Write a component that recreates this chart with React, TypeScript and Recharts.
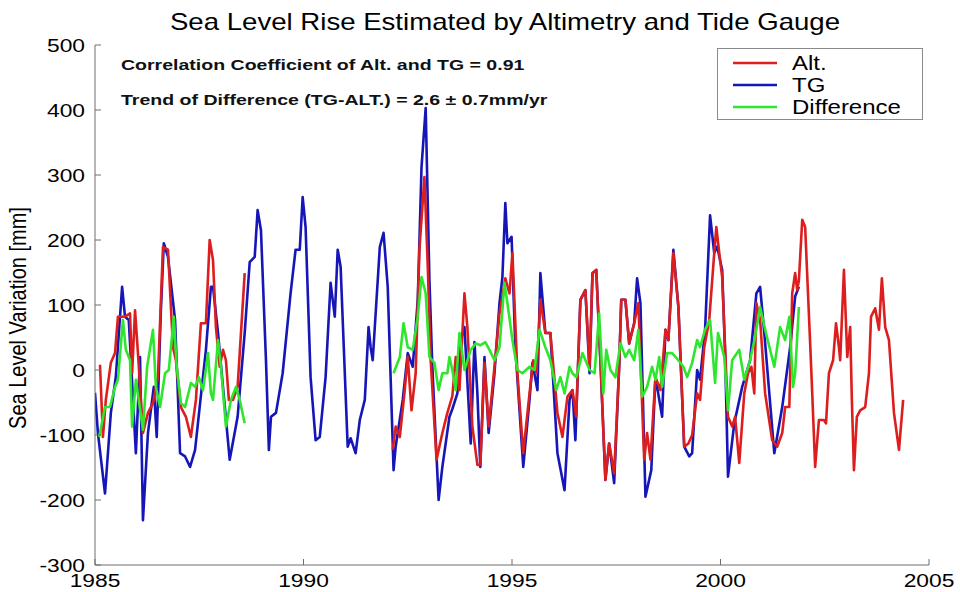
import React from 'react';
import { LineChart, Line, XAxis, YAxis, Legend } from 'recharts';

const xTicks = [1985, 1990, 1995, 2000, 2005];
const yTicks = [-300, -200, -100, 0, 100, 200, 300, 400, 500];

const titleText = 'Sea Level Rise Estimated by Altimetry and Tide Gauge';
const yLabelText = 'Sea Level Variation [mm]';
const noteLines = [
  'Correlation Coefficient of Alt. and TG = 0.91',
  'Trend of Difference (TG-ALT.) = 2.6 \u00b1 0.7mm/yr',
];
const legendOrder = ['Alt.', 'TG', 'Difference'];

// Tide gauge (TG)
const tgYears = [
  1985.0, 1985.07, 1985.24, 1985.38, 1985.5, 1985.65, 1985.72, 1985.81, 1985.98, 1986.08,
  1986.15, 1986.27, 1986.41, 1986.48, 1986.58, 1986.65, 1986.75, 1986.92, 1987.04, 1987.16,
  1987.28, 1987.4, 1987.51, 1987.66, 1987.78, 1987.83, 1987.95, 1988.23, 1988.42, 1988.59,
  1988.71, 1988.83, 1988.9, 1988.98, 1989.1, 1989.17, 1989.22, 1989.34, 1989.5, 1989.69,
  1989.81, 1989.91, 1989.98, 1990.05, 1990.17, 1990.29, 1990.39, 1990.53, 1990.65, 1990.75,
  1990.82, 1990.89, 1991.06, 1991.13, 1991.25, 1991.35, 1991.47, 1991.56, 1991.61, 1991.66,
  1991.83, 1991.92, 1992.02, 1992.16, 1992.21, 1992.38, 1992.5, 1992.62, 1992.74, 1992.83,
  1992.93, 1993.02, 1993.09, 1993.24, 1993.33, 1993.5, 1993.57, 1993.69, 1993.77, 1993.86,
  1994.01, 1994.1, 1994.17, 1994.24, 1994.34, 1994.44, 1994.58, 1994.7, 1994.77, 1994.84,
  1994.89, 1994.99, 1995.08, 1995.27, 1995.42, 1995.49, 1995.61, 1995.68, 1995.8, 1995.92,
  1996.09, 1996.26, 1996.38, 1996.45, 1996.52, 1996.64, 1996.76, 1996.86, 1996.93, 1997.02,
  1997.12, 1997.24, 1997.33, 1997.45, 1997.57, 1997.62, 1997.72, 1997.81, 1997.93, 1998.0,
  1998.08, 1998.2, 1998.34, 1998.44, 1998.6, 1998.68, 1998.75, 1998.87, 1998.99, 1999.13,
  1999.25, 1999.32, 1999.44, 1999.51, 1999.63, 1999.75, 1999.85, 1999.92, 2000.04, 2000.11,
  2000.18, 2000.33, 2000.52, 2000.71, 2000.86, 2000.95, 2001.05, 2001.29, 2001.48, 2001.67,
  2001.79, 2001.88,
];
const tgValues = [
  -35, -97, -190, -66, -10, 128, 82, 77, -128, 20,
  -231, -97, -26, -103, 92, 195, 174, 77, -128, -133,
  -149, -123, -57, 31, 128, 128, 57, -138, -72, 57,
  166, 174, 246, 215, 15, -123, -72, -66, -5, 118,
  185, 185, 266, 220, -11, -108, -103, -11, 134, 82,
  185, 159, -118, -105, -128, -77, -46, 66, 35, 15,
  189, 211, 128, -154, -118, -46, 26, 5, 108, 312,
  403, 138, 5, -200, -149, -72, -60, -36, 46, 66,
  -113, 43, -36, -149, 20, -97, -5, 103, 143, 257,
  195, 205, 35, -149, -46, 11, -31, 149, 57, 57,
  -128, -185, -46, -31, -108, 108, 123, -5, 149, 154,
  15, -169, -113, -174, 5, 108, 108, 41, 72, 141,
  103, -195, -154, -11, -72, 62, 46, 185, 97, -118,
  -133, -128, 0, -15, 62, 238, 180, 190, 154, 26,
  -164, -82, -26, 15, 118, 128, 57, -128, -57, 35,
  113, 128,
];

// Altimetry (Alt.) — two segments
const altYears1 = [
  1985.12, 1985.19, 1985.26, 1985.38, 1985.48, 1985.55, 1985.72, 1985.84, 1985.89, 1985.96,
  1986.03, 1986.15, 1986.27, 1986.39, 1986.51, 1986.63, 1986.75, 1986.87, 1986.94, 1987.06,
  1987.18, 1987.3, 1987.42, 1987.54, 1987.66, 1987.75, 1987.83, 1987.9, 1987.99, 1988.07,
  1988.14, 1988.21, 1988.31, 1988.42, 1988.59,
];
const altValues1 = [
  8, -103, -46, 11, 26, 82, 82, 87, -5, 92,
  26, -97, -66, -51, -11, 189, 185, 35, 15, -57,
  -72, -103, -46, 72, 72, 200, 169, 66, 5, 31,
  15, -46, -46, -26, 149,
];
const altYears2 = [
  1992.14, 1992.21, 1992.31, 1992.42, 1992.5, 1992.59, 1992.69, 1992.78, 1992.9, 1992.98,
  1993.05, 1993.19, 1993.33, 1993.45, 1993.57, 1993.65, 1993.74, 1993.86, 1993.93, 1994.05,
  1994.17, 1994.24, 1994.34, 1994.44, 1994.58, 1994.7, 1994.84, 1994.94, 1995.01, 1995.13,
  1995.27, 1995.42, 1995.51, 1995.59, 1995.68, 1995.8, 1995.92, 1996.09, 1996.21, 1996.33,
  1996.45, 1996.54, 1996.64, 1996.76, 1996.86, 1996.93, 1997.02, 1997.12, 1997.24, 1997.33,
  1997.45, 1997.57, 1997.62, 1997.72, 1997.81, 1997.93, 1998.03, 1998.17, 1998.24, 1998.32,
  1998.44, 1998.56, 1998.68, 1998.75, 1998.87, 1998.99, 1999.13, 1999.23, 1999.32, 1999.44,
  1999.51, 1999.61, 1999.73, 1999.85, 1999.9, 1999.97, 2000.04, 2000.11, 2000.18, 2000.28,
  2000.35, 2000.45, 2000.57, 2000.66, 2000.74, 2000.81, 2000.86, 2000.95, 2001.07, 2001.24,
  2001.36, 2001.48, 2001.55, 2001.65, 2001.72, 2001.79, 2001.84, 2001.88, 2001.96, 2002.03,
  2002.15, 2002.2, 2002.27, 2002.36, 2002.48, 2002.53, 2002.6, 2002.7, 2002.77, 2002.84,
  2002.87, 2002.96, 2003.04, 2003.11, 2003.15, 2003.2, 2003.27, 2003.35, 2003.47, 2003.56,
  2003.61, 2003.71, 2003.8, 2003.87, 2003.95, 2004.04, 2004.16, 2004.28, 2004.38,
];
const altValues2 = [
  -123, -87, -103, -36, 20, -62, -5, 185, 297, 159,
  15, -138, -97, -66, -40, 20, -31, 118, 66, -87,
  -146, -146, 11, -87, 5, 87, 141, 118, 180, -5,
  -128, -36, 15, -5, 108, 57, 57, -66, -103, -41,
  -31, -72, 108, 123, 5, 149, 154, 15, -169, -113,
  -159, 5, 108, 108, 41, 72, 103, -138, -97, -138,
  -11, -31, 62, 46, 180, 97, -118, -113, -100, -36,
  -46, 35, 77, 180, 220, 180, 143, 35, -72, -87,
  -72, -143, -36, -5, 5, -36, 103, 77, -36, -108,
  -118, -97, -57, -57, 118, 149, 123, 138, 231, 220,
  41, -36, -149, -77, -77, -82, -5, 15, 72, 35,
  15, 154, 20, 66, -46, -154, -72, -62, -57, -5,
  82, 95, 62, 141, 66, 46, -66, -123, -46,
];

// Difference (TG - Alt.) — two segments
const diffYears1 = [
  1985.1, 1985.24, 1985.36, 1985.48, 1985.55, 1985.67, 1985.74, 1985.84, 1985.89, 1985.98,
  1986.15, 1986.25, 1986.39, 1986.46, 1986.56, 1986.68, 1986.77, 1986.89, 1986.96, 1987.06,
  1987.16, 1987.3, 1987.4, 1987.49, 1987.59, 1987.71, 1987.78, 1987.83, 1987.95, 1988.02,
  1988.14, 1988.26, 1988.38, 1988.47, 1988.59,
];
const diffValues1 = [
  -103, -57, -57, -26, -15, 77, 31, 15, -87, -15,
  -92, 5, 62, -26, -57, -5, 0, 82, 5, -51,
  -57, -20, -26, -11, -31, 26, -36, -46, 46, 5,
  -87, -46, -26, -46, -82,
];
const diffYears2 = [
  1992.16, 1992.31, 1992.4, 1992.5, 1992.62, 1992.74, 1992.83, 1992.93, 1993.02, 1993.14,
  1993.24, 1993.33, 1993.45, 1993.5, 1993.57, 1993.65, 1993.74, 1993.86, 1994.01, 1994.13,
  1994.24, 1994.36, 1994.46, 1994.58, 1994.7, 1994.82, 1994.89, 1995.01, 1995.13, 1995.25,
  1995.42, 1995.54, 1995.66, 1995.8, 1995.92, 1996.06, 1996.16, 1996.26, 1996.38, 1996.45,
  1996.54, 1996.69, 1996.86, 1996.98, 1997.09, 1997.19, 1997.26, 1997.36, 1997.48, 1997.6,
  1997.72, 1997.81, 1997.93, 1998.03, 1998.12, 1998.24, 1998.36, 1998.44, 1998.53, 1998.6,
  1998.72, 1998.84, 1998.99, 1999.11, 1999.2, 1999.32, 1999.44, 1999.51, 1999.63, 1999.75,
  1999.87, 1999.94, 2000.09, 2000.18, 2000.28, 2000.45, 2000.57, 2000.71, 2000.83, 2000.95,
  2001.09, 2001.29, 2001.43, 2001.55, 2001.65, 2001.74, 2001.79, 2001.88,
];
const diffValues2 = [
  -5, 20, 72, 35, 31, 82, 143, 118, 20, 11,
  -31, -5, -5, 20, 0, -31, 57, 0, 31, 41,
  38, 43, 31, 15, 35, 134, 103, 46, 0, -5,
  5, 0, 62, 35, 15, -31, -11, -36, 5, -5,
  -11, 26, 0, -5, 87, -36, 31, 0, -11, 41,
  20, 31, 15, 62, -41, -26, 5, -15, 20, -26,
  26, 26, 15, 5, -11, 11, 46, 35, 62, 77,
  -20, 57, 20, -62, 15, 31, -15, 15, 51, 97,
  57, 5, 66, 46, 82, -26, -5, 97,
];

type Pt = { x: number; y: number | null };
const toPoints = (xs: number[], ys: number[]): Pt[] => xs.map((x, i) => ({ x, y: ys[i] }));
const gapPoint = (x: number): Pt => ({ x, y: null });

const tgData = toPoints(tgYears, tgValues);
const altData = [...toPoints(altYears1, altValues1), gapPoint(1990), ...toPoints(altYears2, altValues2)];
const diffData = [...toPoints(diffYears1, diffValues1), gapPoint(1990), ...toPoints(diffYears2, diffValues2)];

const FONT = '"Liberation Sans", Arial, Helvetica, sans-serif';
const AXIS_COLOR = '#6e6e6e';
const RED = '#dc1e1e';
const BLUE = '#1616b8';
const GREEN = '#2ee62e';

const XTick = (props: any) => {
  const { x, y, payload } = props;
  return (
    <g transform={`translate(${x},${y}) scale(1.2,1)`}>
      <text x={0} y={0} dy="0.72em" textAnchor="middle" fontSize={19} fontFamily={FONT} fill="#000">
        {payload.value}
      </text>
    </g>
  );
};

const YTick = (props: any) => {
  const { x, y, payload } = props;
  return (
    <g transform={`translate(${x},${y}) scale(1.2,1)`}>
      <text x={0} y={0} dy="0.36em" textAnchor="end" fontSize={19} fontFamily={FONT} fill="#000">
        {payload.value}
      </text>
    </g>
  );
};

const renderLegend = (props: any) => {
  const items = [...(props.payload || [])].sort(
    (a: any, b: any) => legendOrder.indexOf(a.value) - legendOrder.indexOf(b.value)
  );
  return (
    <svg width={206} height={72} style={{ display: 'block' }}>
      <rect x={0.5} y={0.5} width={205} height={71} fill="#fff" stroke="#8a8a8a" strokeWidth={1} />
      {items.map((it: any, i: number) => (
        <g key={it.value}>
          <line x1={16} x2={60} y1={15 + 22 * i} y2={15 + 22 * i} stroke={it.color} strokeWidth={2.5} />
          <g transform={`translate(75,${22 + 22 * i}) scale(1.2,1)`}>
            <text x={0} y={0} fontSize={20} fontFamily={FONT} fill="#000">
              {it.value}
            </text>
          </g>
        </g>
      ))}
    </svg>
  );
};

export default function App() {
  return (
    <div style={{ position: 'absolute', left: 0, top: 0, width: 960, height: 592, background: '#fff' }}>
      <LineChart width={960} height={592} margin={{ top: 45, right: 31, bottom: 0, left: 35 }}>
        <XAxis
          type="number"
          dataKey="x"
          domain={[1985, 2005]}
          ticks={xTicks}
          allowDataOverflow
          height={27}
          stroke={AXIS_COLOR}
          axisLine={{ stroke: AXIS_COLOR, strokeWidth: 1 }}
          tickLine={{ stroke: AXIS_COLOR }}
          tickSize={-6}
          tickMargin={14}
          tick={<XTick />}
          interval={0}
        />
        <YAxis
          type="number"
          domain={[-300, 500]}
          ticks={yTicks}
          allowDataOverflow
          width={60}
          axisLine={{ stroke: AXIS_COLOR, strokeWidth: 1 }}
          tickLine={{ stroke: AXIS_COLOR }}
          tickSize={-6}
          tickMargin={16}
          tick={<YTick />}
          interval={0}
        />
        <Line
          name="TG"
          data={tgData}
          dataKey="y"
          type="linear"
          stroke={BLUE}
          strokeWidth={2.6}
          dot={false}
          activeDot={false}
          isAnimationActive={false}
          strokeLinejoin="round"
        />
        <Line
          name="Alt."
          data={altData}
          dataKey="y"
          type="linear"
          stroke={RED}
          strokeWidth={2.6}
          dot={false}
          activeDot={false}
          isAnimationActive={false}
          strokeLinejoin="round"
        />
        <Line
          name="Difference"
          data={diffData}
          dataKey="y"
          type="linear"
          stroke={GREEN}
          strokeWidth={2.6}
          dot={false}
          activeDot={false}
          isAnimationActive={false}
          strokeLinejoin="round"
        />
        <Legend
          layout="vertical"
          align="center"
          verticalAlign="middle"
          content={renderLegend}
          wrapperStyle={{ position: 'absolute', left: 717, top: 48, width: 206, height: 72 }}
        />
      </LineChart>
      <svg
        width={960}
        height={592}
        style={{ position: 'absolute', left: 0, top: 0, pointerEvents: 'none' }}
      >
        <g transform="translate(505,30) scale(1.2,1)">
          <text x={0} y={0} textAnchor="middle" fontSize={23} fontFamily={FONT} fill="#000">
            {titleText}
          </text>
        </g>
        <g transform="translate(121,70) scale(1.26,1)">
          <text x={0} y={0} fontSize={15.5} fontWeight="bold" fontFamily={FONT} fill="#111">
            {noteLines[0]}
          </text>
        </g>
        <g transform="translate(121,105) scale(1.26,1)">
          <text x={0} y={0} fontSize={15.5} fontWeight="bold" fontFamily={FONT} fill="#111">
            {noteLines[1]}
          </text>
        </g>
        <g transform="translate(26,318) rotate(-90) scale(1,1.2)">
          <text x={0} y={0} textAnchor="middle" fontSize={20} fontFamily={FONT} fill="#000">
            {yLabelText}
          </text>
        </g>
      </svg>
    </div>
  );
}
